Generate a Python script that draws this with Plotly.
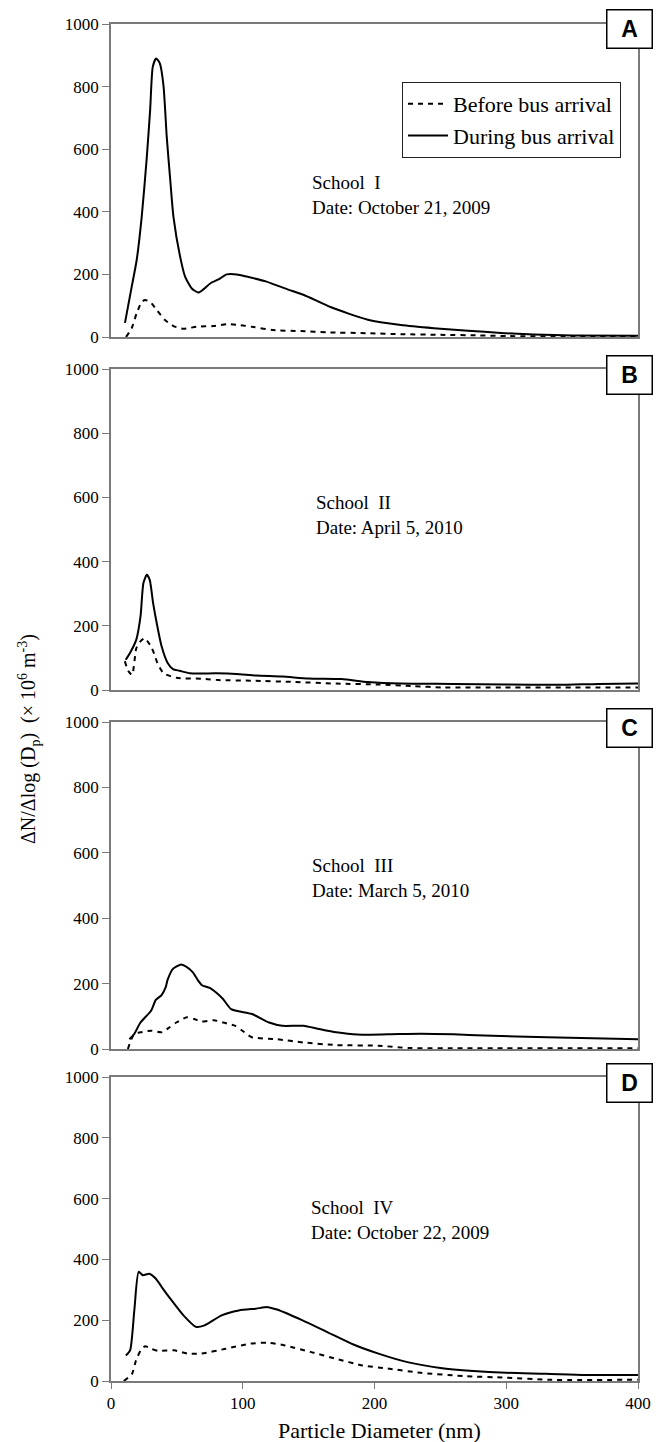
import plotly.graph_objects as go

# ---------------- data ----------------
panel_letters = ["A", "B", "C", "D"]
school_names = ["School\u00a0\u00a0I", "School\u00a0\u00a0II", "School\u00a0\u00a0III", "School\u00a0\u00a0IV"]
school_dates = ["Date: October 21, 2009", "Date: April 5, 2010", "Date: March 5, 2010", "Date: October 22, 2009"]
series_names = ["Before bus arrival", "During bus arrival"]
y_ticks = [0, 200, 400, 600, 800, 1000]
x_ticks = [0, 100, 200, 300, 400]

dp_a_during = [10.6, 15.7, 19.5, 23.3, 27.0, 29.7, 31.7, 34.2, 37, 39.8, 42.3, 45, 47.4, 52.5, 56.3, 61.3,
               66.4, 70.1, 75.3, 81.6, 87.9, 95.5, 103, 118, 134, 146, 167, 195, 220, 245, 271, 296, 321, 350, 400]
n_a_during = [45, 160, 246, 384, 565, 725, 863, 890, 875, 805, 640, 500, 384, 256, 192, 155,
              142, 152, 171, 184, 200, 200, 193, 177, 152, 135, 95, 55, 38, 28, 20, 13, 8, 5, 4]
dp_a_before = [11.4, 15.7, 19.5, 23.3, 25.9, 29.7, 34.8, 41, 47.4, 55, 65, 77.8, 88, 98, 108, 123,
               144, 164, 195, 220, 250, 280, 300, 350, 400]
n_a_before = [0, 28, 76, 112, 118, 112, 86, 54, 35, 26, 33, 35, 41, 38, 32, 22,
              19, 15, 12, 9, 7, 5, 3, 2, 2]

dp_b_during = [11.2, 14.4, 19.2, 22.4, 24.6, 27.2, 29.4, 32, 35.2, 38.4, 43, 47, 52, 60, 80, 95,
               110, 130, 150, 175, 195, 220, 260, 300, 340, 370, 400]
n_b_during = [94, 115, 157, 229, 333, 359, 343, 270, 198, 136, 84, 65, 60, 52, 52, 50,
              45, 42, 36, 34, 25, 20, 19, 17, 16, 19, 20]
dp_b_before = [10.5, 13, 16, 19.2, 22, 25.6, 28, 30.4, 33, 35.2, 40, 49.6, 69, 81.6, 107, 139,
               171, 203, 230, 251, 299, 350, 400]
n_b_before = [90, 60, 47, 130, 150, 162, 150, 136, 110, 84, 52, 38, 35, 31, 29, 25,
              20, 17, 12, 8, 8, 8, 8]

dp_c_during = [14, 17.6, 22.4, 30.4, 34, 38.4, 41.6, 43, 47, 52.8, 57, 62, 66, 69, 75, 80, 85, 91.2,
               107, 120, 130, 146, 158, 171, 187, 210, 235, 260, 283, 331, 400]
n_c_during = [30, 46, 81, 117, 150, 165, 190, 212, 245, 258, 252, 235, 210, 195, 187, 172, 153, 122,
              107, 81, 71, 71, 61, 51, 44, 45, 47, 45, 41, 36, 30]
dp_c_before = [12.8, 17.6, 22.4, 30.4, 38.4, 44, 49.6, 57.6, 63, 68.8, 78, 88, 94.4, 100, 107, 126,
               146, 171, 203, 226, 267, 300, 350, 400]
n_c_before = [0, 46, 51, 56, 51, 65, 81, 97, 92, 84, 88, 78, 71, 55, 36, 30,
              20, 12, 10, 3, 2, 2, 2, 2]

dp_d_during = [11.3, 14.5, 17.7, 21, 24.2, 29, 33.9, 40, 45, 55, 64.5, 71, 84, 97, 110, 119, 126,
               145, 164.5, 184, 203, 225, 250, 275, 300, 330, 360, 400]
n_d_during = [84, 101, 232, 359, 348, 353, 337, 300, 271, 216, 178, 183, 216, 232, 238, 243, 235,
              200, 160, 120, 90, 62, 43, 33, 27, 24, 20, 20]
dp_d_before = [9.7, 16, 19, 22.6, 25.8, 30.6, 35.5, 48, 58, 68, 87, 106, 119, 132, 152, 171,
               190, 210, 235, 268, 300, 332, 400]
n_d_before = [0, 24, 68, 101, 114, 106, 99, 101, 90, 90, 106, 123, 126, 117, 95, 73,
              52, 41, 27, 16, 11, 4, 4]

before_x = [dp_a_before, dp_b_before, dp_c_before, dp_d_before]
before_y = [n_a_before, n_b_before, n_c_before, n_d_before]
during_x = [dp_a_during, dp_b_during, dp_c_during, dp_d_during]
during_y = [n_a_during, n_b_during, n_c_during, n_d_during]

# ---------------- layout geometry ----------------
W, H = 658, 1442
ML, MR, MT, MB = 111, 20, 24, 61
PW = W - ML - MR
PH = H - MT - MB
# panel pixel extents (top, bottom)
panel_px = [(24, 337), (369, 690), (722, 1049), (1077, 1381)]


def py2paper(py):
    return (H - MB - py) / PH


def px2paper(px):
    return (px - ML) / PW


SERIF = "Liberation Serif"
SANS = "Liberation Sans"
AXIS_GRAY = "#7a7a7a"

fig = go.Figure()
layout = dict(
    width=W, height=H,
    margin=dict(l=ML, r=MR, t=MT, b=MB, autoexpand=False),
    paper_bgcolor="white", plot_bgcolor="white",
    font=dict(family=SERIF, size=17, color="black"),
    showlegend=True,
    legend=dict(
        x=px2paper(621), y=py2paper(82), xanchor="right", yanchor="top",
        bgcolor="white", bordercolor="#222", borderwidth=1,
        font=dict(family=SERIF, size=22, color="black"),
        tracegroupgap=0, itemwidth=40,
    ),
)

annotations = []
for i in range(4):
    k = "" if i == 0 else str(i + 1)
    top, bot = panel_px[i]
    fig.add_trace(go.Scatter(
        x=before_x[i], y=before_y[i], mode="lines", name=series_names[0],
        line=dict(color="black", width=2, dash="5px,5px", shape="spline", smoothing=0.6),
        xaxis="x" + k, yaxis="y" + k, showlegend=(i == 0), legendrank=1,
    ))
    fig.add_trace(go.Scatter(
        x=during_x[i], y=during_y[i], mode="lines", name=series_names[1],
        line=dict(color="black", width=2, shape="spline", smoothing=0.6),
        xaxis="x" + k, yaxis="y" + k, showlegend=(i == 0), legendrank=2,
    ))
    last = (i == 3)
    layout["xaxis" + k] = dict(
        domain=[0, 1], range=[0, 400], anchor="y" + k,
        showline=True, linecolor=AXIS_GRAY, linewidth=1.5, mirror=True,
        showgrid=False, zeroline=False,
        tickvals=x_ticks, showticklabels=last,
        ticks="outside" if last else "", ticklen=6, tickcolor=AXIS_GRAY,
        tickfont=dict(family=SERIF, size=17, color="black"),
    )
    layout["yaxis" + k] = dict(
        domain=[py2paper(bot), py2paper(top)], range=[0, 1000], anchor="x" + k,
        showline=True, linecolor=AXIS_GRAY, linewidth=1.5, mirror=True,
        showgrid=False, zeroline=False,
        tickvals=y_ticks, ticks="outside", ticklen=7, tickcolor=AXIS_GRAY,
        tickfont=dict(family=SERIF, size=17, color="black"),
    )
    # panel letter box
    cy = top + (5 if i == 0 else 6)
    annotations.append(dict(
        xref="paper", yref="paper", x=px2paper(629.5), y=py2paper(cy),
        xanchor="center", yanchor="middle", showarrow=False,
        text="<b>" + panel_letters[i] + "</b>",
        font=dict(family=SANS, size=23, color="black"),
        width=44, height=37, borderpad=0, borderwidth=1.5, bordercolor="black",
        bgcolor="white",
    ))

# school / date text
school_centers = [195, 515, 878, 1220]
school_lefts = [310, 314, 310, 309]
for i in range(4):
    annotations.append(dict(
        xref="paper", yref="paper", x=px2paper(school_lefts[i]), y=py2paper(school_centers[i]),
        xanchor="left", yanchor="middle", align="left", showarrow=False,
        text=school_names[i] + "<br>" + school_dates[i],
        font=dict(family=SERIF, size=19, color="black"),
    ))

# axis titles
annotations.append(dict(
    xref="paper", yref="paper", x=px2paper(29), y=py2paper(739),
    xanchor="center", yanchor="middle", showarrow=False, textangle=-90,
    text="\u0394N/\u0394log (D<sub>p</sub>)\u00a0 (\u00d7 10<sup>6</sup> m<sup>-3</sup>)",
    font=dict(family=SERIF, size=20, color="black"),
))
annotations.append(dict(
    xref="paper", yref="paper", x=px2paper(380), y=py2paper(1431),
    xanchor="center", yanchor="middle", showarrow=False,
    text="Particle Diameter (nm)",
    font=dict(family=SERIF, size=22, color="black"),
))

layout["annotations"] = annotations
fig.update_layout(**layout)
fig.write_html("out.html")
